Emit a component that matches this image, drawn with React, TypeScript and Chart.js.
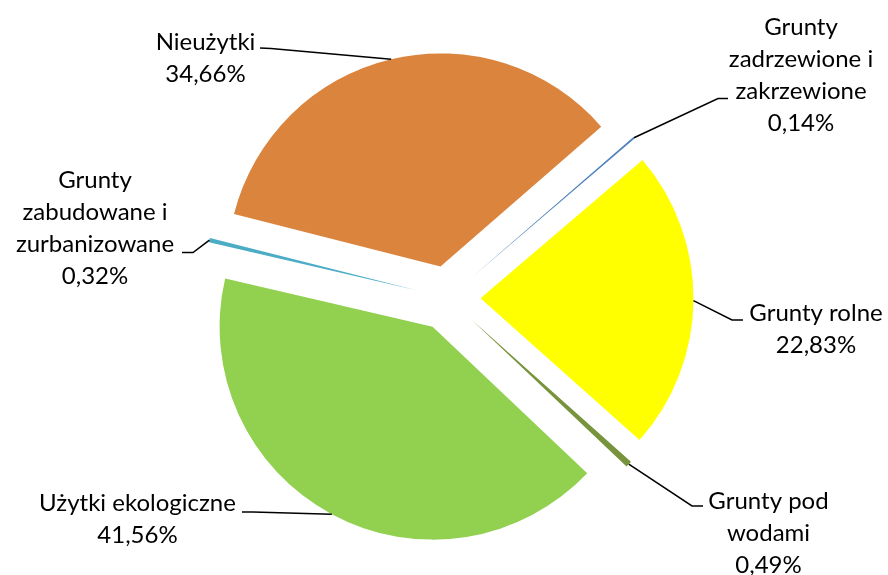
import React, { useEffect, useRef } from "react";
import { Chart, registerables } from "chart.js";

Chart.register(...registerables);

// ---- data ----
const categories: string[][] = [
  ["Grunty", "zadrzewione i", "zakrzewione"],
  ["Grunty rolne"],
  ["Grunty pod", "wodami"],
  ["Użytki ekologiczne"],
  ["Grunty", "zabudowane i", "zurbanizowane"],
  ["Nieużytki"],
];
const shares: number[] = [0.14, 22.83, 0.49, 41.56, 0.32, 34.66];
const sliceColors: string[] = ["#4F81BD", "#FFFF00", "#77933C", "#92D050", "#4BACC6", "#DB843D"];

// ---- layout / style ----
const START_ANGLE = 49;
const RADIUS = 213;
const EXPLODE = 32.5;
const FONT = "24px Lato, 'Open Sans', sans-serif";
const LINE_H = 32;
// text centre x, first baseline y, leader anchor (text side), elbow point
const labelLayout = [
  { cx: 801, by: 35, ax: 728, ay: 98.5, ex: 718, ey: 98.5 },
  { cx: 816, by: 321, ax: 743, ay: 320, ex: 732, ey: 320 },
  { cx: 768.5, by: 508.5, ax: 703, ay: 506, ex: 692, ey: 506 },
  { cx: 137.5, by: 511, ax: 242, ay: 512, ex: 253, ey: 512 },
  { cx: 95, by: 188, ax: 182, ay: 252.5, ex: 193, ey: 252.5 },
  { cx: 205.5, by: 49.5, ax: 260, ay: 48, ex: 271, ey: 48.5 },
];

const explodePlugin = {
  id: "explodeSlices",
  beforeDatasetDraw(chart: any, args: any) {
    const ctx = chart.ctx;
    args.meta.data.forEach((arc: any) => {
      const mid = (arc.startAngle + arc.endAngle) / 2;
      ctx.save();
      ctx.translate(Math.cos(mid) * EXPLODE, Math.sin(mid) * EXPLODE);
      arc.draw(ctx);
      ctx.restore();
    });
    return false;
  },
};

const labelPlugin = {
  id: "sliceLabels",
  afterDatasetsDraw(chart: any) {
    const ctx = chart.ctx;
    const meta = chart.getDatasetMeta(0);
    meta.data.forEach((arc: any, i: number) => {
      const L = labelLayout[i];
      const mid = (arc.startAngle + arc.endAngle) / 2;
      const r = arc.outerRadius + EXPLODE;
      const tx = arc.x + Math.cos(mid) * r;
      const ty = arc.y + Math.sin(mid) * r;
      ctx.save();
      ctx.strokeStyle = "#000";
      ctx.lineWidth = 1.5;
      ctx.beginPath();
      ctx.moveTo(L.ax, L.ay);
      ctx.lineTo(L.ex, L.ey);
      ctx.lineTo(tx, ty);
      ctx.stroke();
      ctx.fillStyle = "#000";
      ctx.font = FONT;
      ctx.textAlign = "center";
      ctx.textBaseline = "alphabetic";
      const lines = [...categories[i], shares[i].toFixed(2).replace(".", ",") + "%"];
      lines.forEach((t, k) => ctx.fillText(t, L.cx, L.by + k * LINE_H));
      ctx.restore();
    });
  },
};

export default function App() {
  const ref = useRef<HTMLCanvasElement>(null);
  useEffect(() => {
    if (!ref.current) return;
    const chart = new Chart(ref.current, {
      type: "pie",
      data: {
        labels: categories.map((c) => c.join(" ")),
        datasets: [
          {
            data: shares,
            backgroundColor: sliceColors,
            borderWidth: 0,
            radius: RADIUS,
          } as any,
        ],
      },
      options: {
        animation: false,
        responsive: false,
        devicePixelRatio: 1,
        rotation: START_ANGLE,
        events: [],
        layout: { padding: { left: 8, right: 0, top: 21, bottom: 0 } },
        plugins: { legend: { display: false }, tooltip: { enabled: false } },
      },
      plugins: [explodePlugin, labelPlugin],
    });
    return () => chart.destroy();
  }, []);
  return (
    <div style={{ position: "fixed", left: 0, top: 0, width: 888, height: 575, background: "#fff" }}>
      <canvas ref={ref} width={888} height={575} style={{ width: 888, height: 575 }} />
    </div>
  );
}
